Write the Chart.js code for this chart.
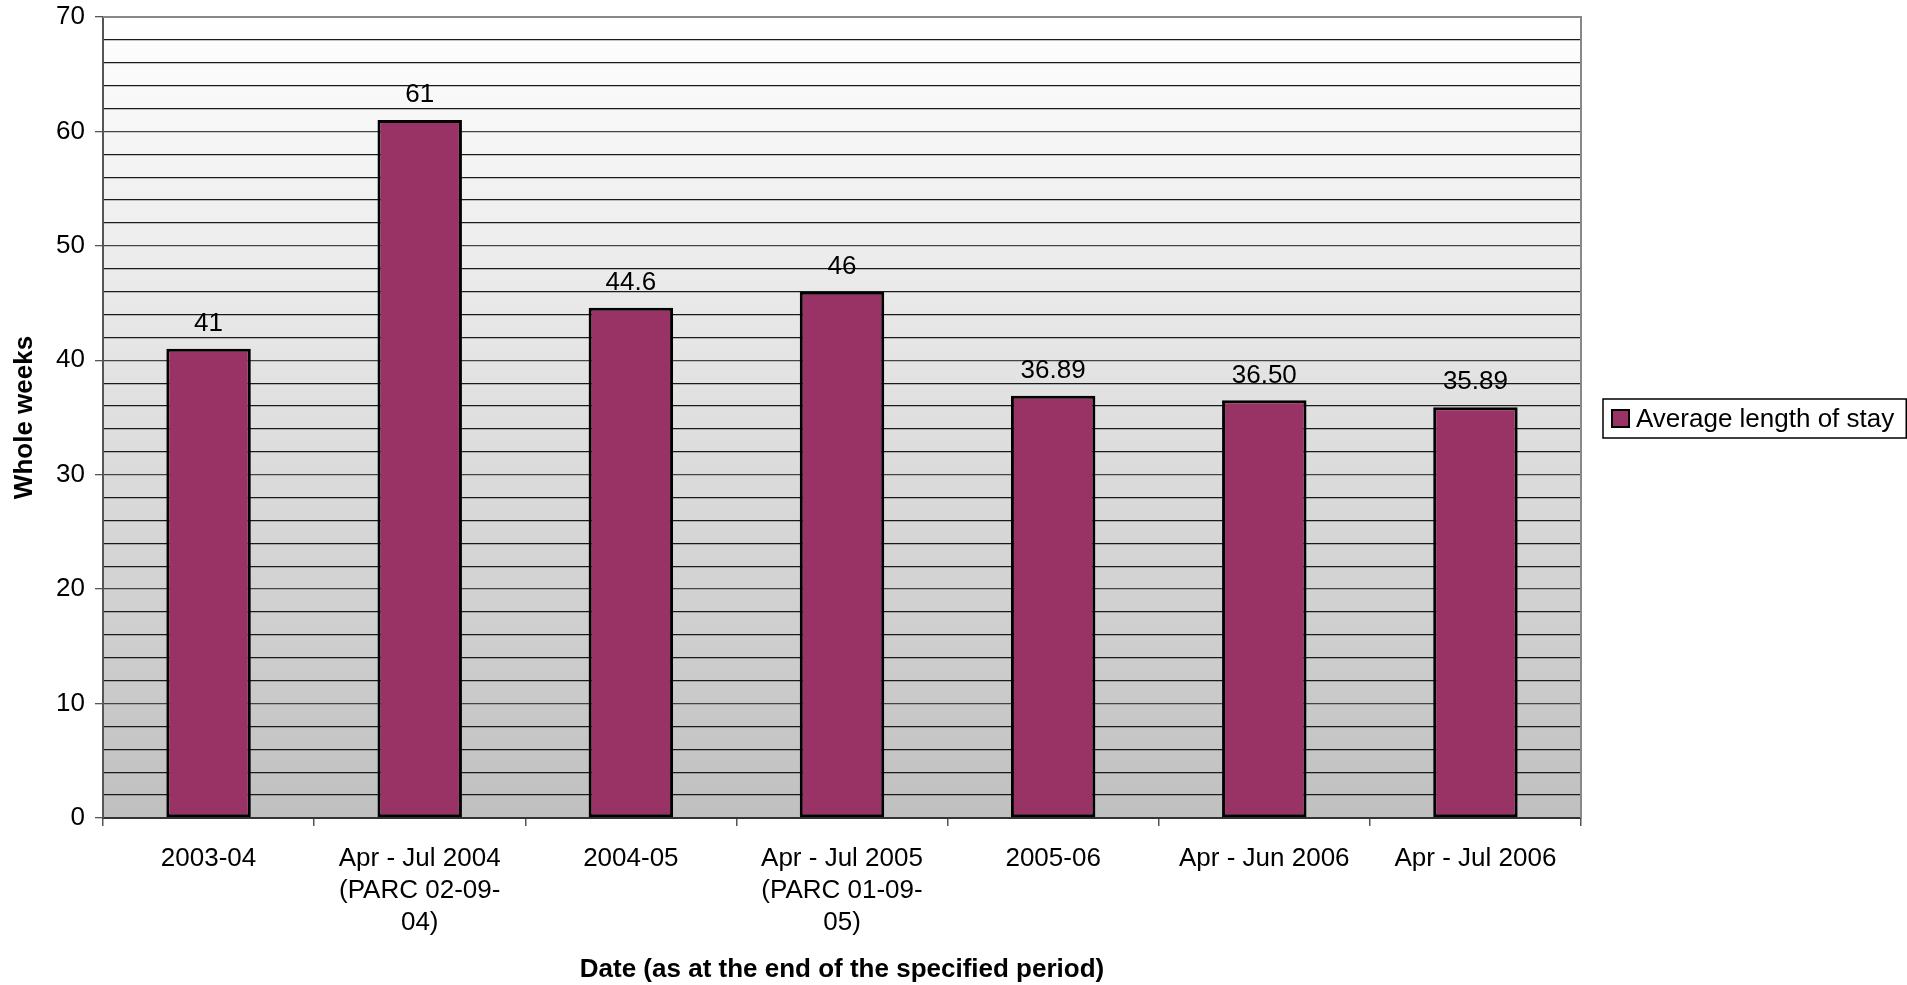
<!DOCTYPE html>
<html>
<head>
<meta charset="utf-8">
<title>Average length of stay</title>
<script src="https://cdn.jsdelivr.net/npm/chart.js@4/dist/chart.umd.min.js"></script>
<style>
  html, body { margin: 0; padding: 0; background: #ffffff; }
  #wrap { position: relative; width: 1907px; height: 985px; }
</style>
</head>
<body>
<div id="wrap"><canvas id="chart" width="1907" height="985"></canvas></div>
<script>
// Periods shown along the x axis (multi-line labels wrap as drawn)
const categories = [
  '2003-04',
  ['Apr - Jul 2004', '(PARC 02-09-', '04)'],
  '2004-05',
  ['Apr - Jul 2005', '(PARC 01-09-', '05)'],
  '2005-06',
  'Apr - Jun 2006',
  'Apr - Jul 2006'
];

// Value labels as printed above each bar; bar heights come from the same text
const valueLabels = ['41', '61', '44.6', '46', '36.89', '36.50', '35.89'];
const avgStayWeeks = valueLabels.map(Number);

const seriesName = 'Average length of stay';
const yTitle = 'Whole weeks';
const xTitle = 'Date (as at the end of the specified period)';

const FONT = '"Liberation Sans", Arial, Helvetica, sans-serif';
const BAR_COLOR = '#993366';

// Shaded plot background with a frame around the plot area
const plotBackground = {
  id: 'plotBackground',
  beforeDraw(chart) {
    const { ctx, chartArea: a } = chart;
    const g = ctx.createLinearGradient(0, a.top, 0, a.bottom);
    g.addColorStop(0, '#ffffff');
    g.addColorStop(1, '#c0c0c0');
    ctx.save();
    ctx.fillStyle = g;
    ctx.fillRect(a.left, a.top, a.right - a.left, a.bottom - a.top);
    ctx.restore();
  },
  afterDraw(chart) {
    const { ctx, chartArea: a } = chart;
    ctx.save();
    ctx.strokeStyle = '#888888';
    ctx.lineWidth = 2;
    ctx.beginPath();
    ctx.moveTo(a.left, a.top);
    ctx.lineTo(a.right, a.top);
    ctx.lineTo(a.right, a.bottom);
    ctx.stroke();
    ctx.restore();
  }
};

// Value printed above each bar
const barValues = {
  id: 'barValues',
  afterDatasetsDraw(chart) {
    const { ctx } = chart;
    const meta = chart.getDatasetMeta(0);
    ctx.save();
    ctx.font = '26px ' + FONT;
    ctx.fillStyle = '#000000';
    ctx.textAlign = 'center';
    ctx.textBaseline = 'middle';
    meta.data.forEach((bar, i) => {
      ctx.fillText(valueLabels[i], bar.x, bar.y - 25);
    });
    ctx.restore();
  }
};

// Boxed legend to the right of the plot
const boxedLegend = {
  id: 'boxedLegend',
  afterDraw(chart) {
    const { ctx } = chart;
    const ds = chart.data.datasets[0];
    const left = 1603, top = 399, h = 39;
    ctx.save();
    ctx.font = '26px ' + FONT;
    const tw = ctx.measureText(ds.label).width;
    const w = 8 + 17 + 8 + tw + 12;
    ctx.fillStyle = '#ffffff';
    ctx.fillRect(left, top, w, h);
    ctx.strokeStyle = '#000000';
    ctx.lineWidth = 1.5;
    ctx.strokeRect(left, top, w, h);
    const cy = top + h / 2;
    ctx.fillStyle = ds.backgroundColor;
    ctx.fillRect(left + 9, cy - 8.5, 17, 17);
    ctx.lineWidth = 2;
    ctx.strokeRect(left + 9, cy - 8.5, 17, 17);
    ctx.fillStyle = '#000000';
    ctx.textAlign = 'left';
    ctx.textBaseline = 'middle';
    ctx.fillText(ds.label, left + 33, cy + 1);
    ctx.restore();
  }
};

new Chart(document.getElementById('chart'), {
  type: 'bar',
  data: {
    labels: categories,
    datasets: [{
      label: seriesName,
      data: avgStayWeeks,
      backgroundColor: BAR_COLOR,
      borderColor: '#000000',
      borderWidth: 3,
      borderSkipped: false,
      categoryPercentage: 1.0,
      barPercentage: 0.4
    }]
  },
  options: {
    responsive: false,
    animation: false,
    devicePixelRatio: 1,
    layout: { padding: { top: 17, right: 326, left: 0, bottom: 0 } },
    plugins: {
      legend: { display: false },
      tooltip: { enabled: false }
    },
    scales: {
      x: {
        offset: true,
        grid: {
          offset: true,
          drawOnChartArea: false,
          drawTicks: true,
          tickLength: 8,
          color: '#555555',
          lineWidth: 1.5
        },
        border: { display: true, color: '#333333', width: 2 },
        ticks: {
          color: '#000000',
          font: { family: FONT, size: 26, lineHeight: 1.23 },
          maxRotation: 0,
          autoSkip: false,
          padding: 17
        },
        title: {
          display: true,
          text: xTitle,
          color: '#000000',
          font: { family: FONT, size: 26, weight: 'bold', lineHeight: 1.2 },
          padding: { top: 0, bottom: 0 }
        },
        afterFit(scale) { scale.height = 167; scale.paddingLeft = 0; scale.paddingRight = 0; }
      },
      y: {
        min: 0,
        max: 70,
        ticks: {
          stepSize: 2,
          autoSkip: false,
          color: '#000000',
          font: { family: FONT, size: 26 },
          padding: 10,
          callback: (v) => (v % 10 === 0 ? String(v) : '')
        },
        grid: {
          color: (c) => (c.tick && c.tick.value % 10 === 0 ? '#444444' : '#1a1a1a'),
          lineWidth: 1.3,
          tickLength: 8,
          tickColor: (c) => (c.tick && c.tick.value % 10 === 0 ? '#555555' : 'rgba(0,0,0,0)')
        },
        border: { display: true, color: '#555555', width: 2 },
        title: {
          display: true,
          text: yTitle,
          color: '#000000',
          font: { family: FONT, size: 26, weight: 'bold', lineHeight: 1.2 },
          padding: { top: 9, bottom: 0 }
        },
        afterFit(scale) { scale.width = 103; scale.paddingTop = 0; scale.paddingBottom = 0; }
      }
    }
  },
  plugins: [plotBackground, barValues, boxedLegend]
});
</script>
</body>
</html>
